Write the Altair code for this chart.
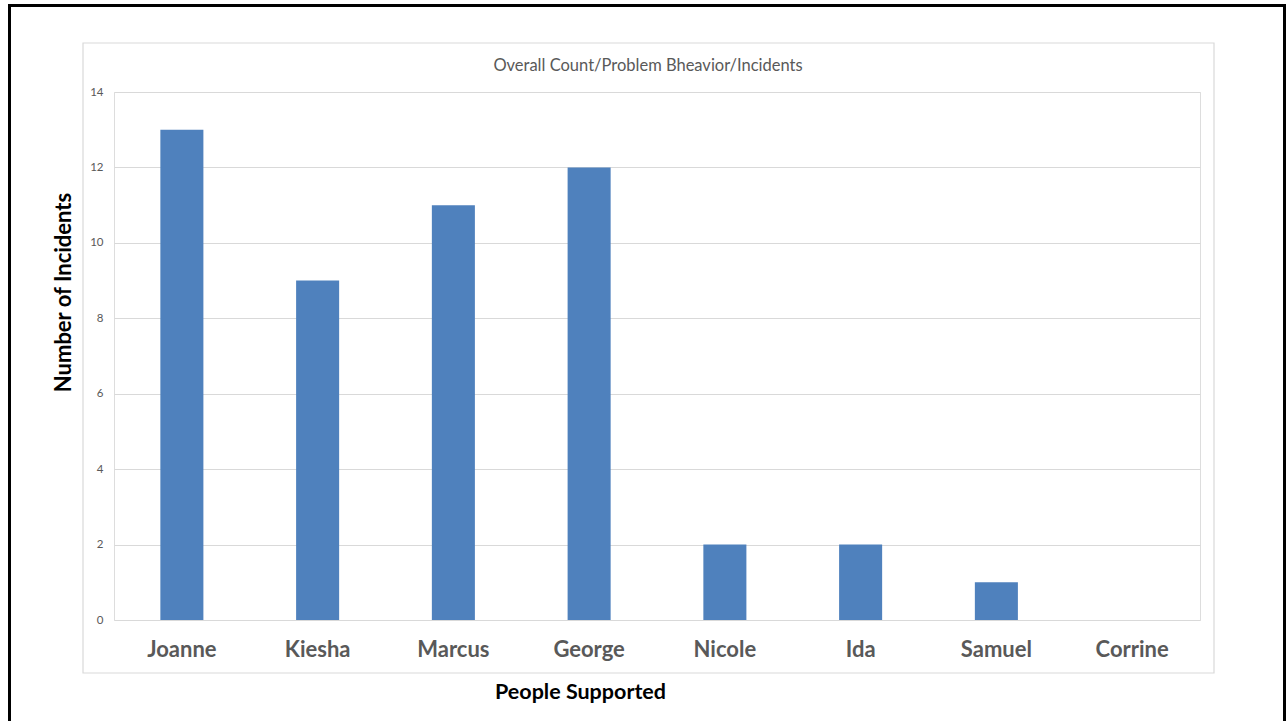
import altair as alt
import pandas as pd

people = ["Joanne", "Kiesha", "Marcus", "George", "Nicole", "Ida", "Samuel", "Corrine"]
incidents = [13, 9, 11, 12, 2, 2, 1, 0]
y_ticks = [0, 2, 4, 6, 8, 10, 12, 14]
chart_title = "Overall Count/Problem Bheavior/Incidents"

df = pd.DataFrame({"person": people, "incidents": incidents})
one = pd.DataFrame({"t": [chart_title]})

FONT = "Lato"
GREY = "#595959"

frame = alt.Chart(one).mark_rect(fillOpacity=0, stroke="#d9d9d9", strokeWidth=1.2).encode(
    x=alt.value(-31), x2=alt.value(1100), y=alt.value(-49), y2=alt.value(581)
)
border = alt.Chart(one).mark_rect(fillOpacity=0, stroke="black", strokeWidth=3).encode(
    x=alt.value(-104.5), x2=alt.value(1170.5), y=alt.value(-86.5), y2=alt.value(660)
)
title = alt.Chart(one).mark_text(font=FONT, fontSize=16.5, color=GREY, align="center",
                                 baseline="middle").encode(
    text="t:N", x=alt.value(534), y=alt.value(-26)
)

bars = alt.Chart(df).mark_bar(color="#4F81BD").encode(
    x=alt.X("person:N", sort=people,
            scale=alt.Scale(paddingInner=0.683, paddingOuter=0.3415),
            axis=alt.Axis(title="People Supported", labelAngle=0, ticks=False, domain=False,
                          labelFont=FONT, labelFontSize=22, labelFontWeight="bold", labelColor=GREY,
                          labelPadding=19, titleFont=FONT, titleFontSize=21.5, titleFontWeight="bold",
                          titleColor="black", titleX=466, titleY=72, titleBaseline="middle",
                          titleAnchor="start", titleAlign="center")),
    y=alt.Y("incidents:Q", scale=alt.Scale(domain=[0, 14]),
            axis=alt.Axis(title="Number of Incidents", values=y_ticks, ticks=False, domain=False,
                          grid=True, gridColor="#d9d9d9", gridWidth=1,
                          labelFont=FONT, labelFontSize=11.5, labelColor=GREY, labelPadding=11,
                          titleFont=FONT, titleFontSize=22, titleFontWeight="bold", titleColor="black",
                          titleAngle=270, titleX=-51, titleY=200, titleBaseline="middle",
                          titleAlign="center", titleAnchor="start")),
)

chart = alt.layer(border, frame, bars, title).properties(
    width=1086, height=528,
    autosize=alt.AutoSizeParams(type="none"),
    padding={"left": 114, "top": 92, "right": 86, "bottom": 101},
).configure_view(stroke=None).configure(background="white")

chart.save("out.html", embed_options={"renderer": "svg", "actions": False})
